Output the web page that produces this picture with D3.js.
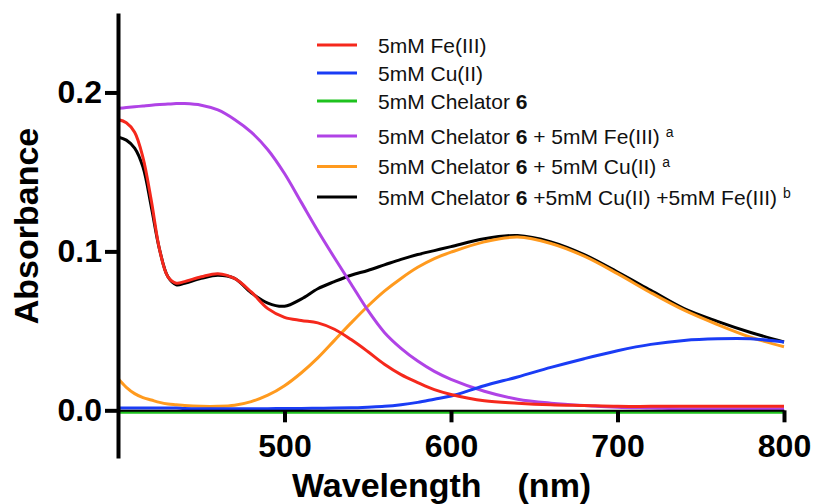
<!DOCTYPE html>
<html>
<head>
<meta charset="utf-8">
<script src="https://cdn.jsdelivr.net/npm/d3@7"></script>
<style>
  body { margin: 0; background: #fff; }
  svg { display: block; font-family: "Liberation Sans", Arial, Helvetica, sans-serif; }
  .axis path, .axis line { stroke: #000; }
  .axis text { font-weight: bold; font-size: 32px; fill: #000; }
</style>
</head>
<body>
<svg id="chart" width="815" height="504"></svg>
<script>
// wavelength grid (nm) and absorbance of each sample
const wavelength = [400, 405, 410, 415, 420, 425, 430, 435, 440, 450, 460, 470, 480, 490, 500,
  510, 520, 530, 540, 550, 560, 570, 580, 590, 600, 620, 640, 660, 680, 700, 720, 740, 760, 780, 800];

const fe = [0.183, 0.181, 0.175, 0.159, 0.132, 0.101, 0.084, 0.080, 0.081, 0.084, 0.086, 0.083, 0.0745, 0.064, 0.0585,
  0.0565, 0.055, 0.051, 0.0445, 0.037, 0.029, 0.0225, 0.0175, 0.013, 0.010, 0.006, 0.0045, 0.0035, 0.003, 0.0025, 0.0025, 0.0025, 0.0025, 0.0025, 0.0025];

const cu = [0.0015, 0.0015, 0.0015, 0.0015, 0.0015, 0.0015, 0.0015, 0.0015, 0.0012, 0.001, 0.001, 0.001, 0.001, 0.001, 0.0012,
  0.0012, 0.0013, 0.0014, 0.0016, 0.002, 0.0025, 0.0035, 0.005, 0.007, 0.009, 0.0155, 0.021, 0.027, 0.0325, 0.0375, 0.0415, 0.044, 0.045, 0.045, 0.043];

const chelator = [-0.0012, -0.0012, -0.0012, -0.0012, -0.0012, -0.0012, -0.0012, -0.0012, -0.0012, -0.0012, -0.0012, -0.0012, -0.0012, -0.0012, -0.0012,
  -0.0012, -0.0012, -0.0012, -0.0012, -0.0012, -0.0012, -0.0012, -0.0012, -0.0012, -0.0012, -0.0012, -0.0012, -0.0012, -0.0012, -0.0012, -0.0012, -0.0012, -0.0012, -0.0012, -0.0012];

const chelFe = [0.190, 0.1905, 0.191, 0.1915, 0.192, 0.1924, 0.1927, 0.193, 0.193, 0.192, 0.189, 0.183, 0.175, 0.164, 0.149,
  0.131, 0.113, 0.096, 0.0795, 0.063, 0.049, 0.039, 0.031, 0.0245, 0.0195, 0.012, 0.007, 0.0045, 0.003, 0.002, 0.0015, 0.001, 0.001, 0.001, 0.001];

const chelCu = [0.020, 0.0145, 0.0105, 0.008, 0.0065, 0.005, 0.004, 0.0035, 0.003, 0.0025, 0.0025, 0.0032, 0.0055, 0.0095, 0.0155,
  0.0235, 0.033, 0.044, 0.055, 0.0655, 0.075, 0.083, 0.090, 0.0955, 0.0995, 0.106, 0.109, 0.105, 0.097, 0.086, 0.074, 0.063, 0.054, 0.046, 0.040];

const chelCuFe = [0.172, 0.170, 0.165, 0.153, 0.128, 0.101, 0.084, 0.079, 0.080, 0.083, 0.085, 0.083, 0.074, 0.0675, 0.0655,
  0.070, 0.0765, 0.081, 0.085, 0.088, 0.0915, 0.095, 0.098, 0.1005, 0.103, 0.108, 0.110, 0.106, 0.098, 0.087, 0.0755, 0.064, 0.056, 0.049, 0.043];

const xTicks = [500, 600, 700, 800];
const yTicks = [0.0, 0.1, 0.2];

// legend rows: [text before bold, bold, text after, superscript]
const series = [
  { name: ["5mM Fe(III)", "", "", ""], values: fe, color: "#f5281c" },
  { name: ["5mM Cu(II)", "", "", ""], values: cu, color: "#1a3cf5" },
  { name: ["5mM Chelator ", "6", "", ""], values: chelator, color: "#1ec21e" },
  { name: ["5mM Chelator ", "6", " + 5mM Fe(III) ", "a"], values: chelFe, color: "#b043e6" },
  { name: ["5mM Chelator ", "6", " + 5mM Cu(II) ", "a"], values: chelCu, color: "#ff9a1e" },
  { name: ["5mM Chelator ", "6", " +5mM Cu(II) +5mM Fe(III) ", "b"], values: chelCuFe, color: "#000000" }
];

const svg = d3.select("#chart");

const x = d3.scaleLinear().domain([400, 800]).range([118, 784]);
const y = d3.scaleLinear().domain([-0.03, 0.25]).range([458, 13]);

// curves - draw order chosen so that red sits on black and green on the baseline
const line = d3.line()
  .x((d, i) => x(wavelength[i]))
  .y(d => y(d))
  .curve(d3.curveCatmullRom.alpha(0.5));

const drawOrder = [5, 4, 3, 1, 0, 2];
svg.append("g").selectAll("path")
  .data(drawOrder.map(i => series[i]))
  .join("path")
  .attr("d", d => line(d.values))
  .attr("fill", "none")
  .attr("stroke", d => d.color)
  .attr("stroke-width", 3);

// x axis sits at zero
const xAxis = svg.append("g")
  .attr("class", "axis")
  .attr("transform", `translate(0,${y(0)})`)
  .call(d3.axisBottom(x).tickValues(xTicks).tickSize(12).tickSizeOuter(0).tickPadding(12));
xAxis.select(".domain").attr("stroke-width", 2);
xAxis.selectAll(".tick line").attr("stroke-width", 4);

// y axis runs the full height
const yAxis = svg.append("g")
  .attr("class", "axis")
  .attr("transform", `translate(${x(400)},0)`)
  .call(d3.axisLeft(y).tickValues(yTicks).tickFormat(d3.format(".1f")).tickSize(13).tickSizeOuter(0).tickPadding(3));
yAxis.select(".domain").attr("stroke-width", 4);
yAxis.selectAll(".tick line").attr("stroke-width", 4);

// axis titles
svg.append("text")
  .attr("transform", "translate(26,226) rotate(-90)")
  .attr("text-anchor", "middle")
  .attr("dy", "0.35em")
  .style("font-size", "34px")
  .style("font-weight", "bold")
  .text("Absorbance");

const xt = svg.append("text")
  .attr("x", 292)
  .attr("y", 497)
  .style("font-size", "34px")
  .style("font-weight", "bold");
xt.append("tspan").text("Wavelength");
xt.append("tspan").attr("dx", 36).text("(nm)");

// legend
const legend = svg.append("g");
const rowY = i => i < 3 ? 45 + i * 28 : 136 + (i - 3) * 30.5;

series.forEach((s, i) => {
  const g = legend.append("g").attr("transform", `translate(0,${rowY(i)})`);
  g.append("line")
    .attr("x1", 317).attr("x2", 357)
    .attr("stroke", s.color)
    .attr("stroke-width", 3);
  const t = g.append("text")
    .attr("x", 378)
    .attr("dy", "0.36em")
    .style("font-size", "21px")
    .style("fill", "#111");
  t.append("tspan").text(s.name[0]);
  if (s.name[1]) t.append("tspan").style("font-weight", "bold").text(s.name[1]);
  if (s.name[2]) t.append("tspan").text(s.name[2]);
  if (s.name[3]) t.append("tspan").attr("dy", "-0.5em").style("font-size", "14px").text(s.name[3]);
});
</script>
</body>
</html>
